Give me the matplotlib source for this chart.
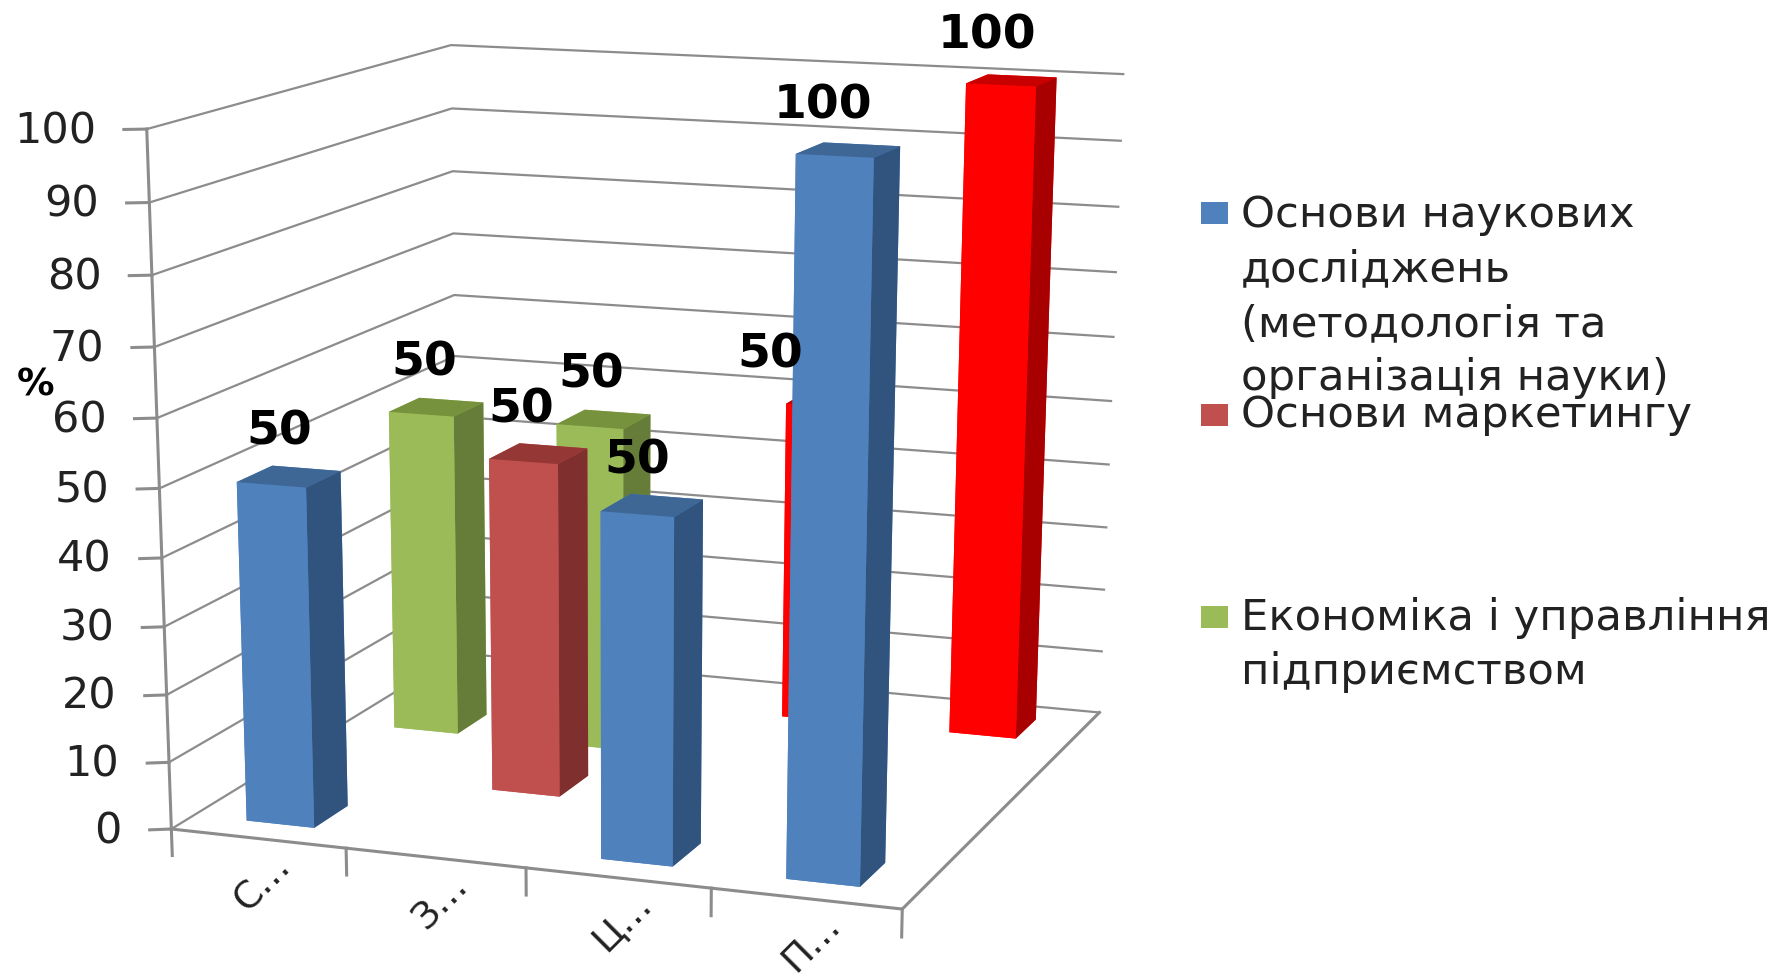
import numpy as np
import matplotlib
matplotlib.use('Agg')
import matplotlib.pyplot as plt
from matplotlib.patches import Rectangle
from mpl_toolkits.mplot3d import proj3d

W, H = 1788, 976

categories = ['С…', 'З…', 'Ц…', 'П…']
series_names = ['Основи наукових\nдосліджень\n(методологія та\nорганізація науки)',
                'Основи маркетингу',
                'Економіка і управління\nпідприємством']
z_ticks = [0, 10, 20, 30, 40, 50, 60, 70, 80, 90, 100]

# category index, series index, value
bar_cat = [0, 0, 1, 1, 2, 2, 3, 3]
bar_ser = [0, 2, 1, 2, 0, 3, 0, 3]
bar_val = [50, 50, 50, 50, 50, 50, 100, 100]
label_shift = [-10, -12, -17, -13, -15, -61, -25, -25]

# front, side, top for each series row
series_styles = [('#4F81BD', '#31547E', '#3E6795'),
                 ('#C0504D', '#7F2F2D', '#953735'),
                 ('#9BBB59', '#667D39', '#76923C'),
                 ('#FF0000', '#A80000', '#C80000')]
legend_colors = ['#4F81BD', '#C0504D', '#9BBB59']

# camera fitted to the frame of the reference
elev, azim, roll, dist = 14.6951, -70.2368, -0.1361, 6.0781
aspect = (0.8560, 0.8478, 1.0)
sx, tx, sy, ty = 4339.29, 658.64, 3445.14, 533.45
bw, bd = 0.39, 0.33
row = 0.75

fig = plt.figure(figsize=(W / 100, H / 100), dpi=100, facecolor='white')
ax = fig.add_axes([0, 0, 1, 1], projection='3d')
ax.set_xlim(0, 4)
ax.set_ylim(0, 3)
ax.set_zlim(0, 100)
ax.set_axis_off()
ax.computed_zorder = False
ax.view_init(elev=elev, azim=azim, roll=roll)
ax.set_proj_type('persp', focal_length=1.0)
ax._dist = dist
ax.set_box_aspect(aspect)
ax.apply_aspect = lambda position=None: None
ax.viewLim.intervalx = ((0 - tx) / sx, (W - tx) / sx)
ax.viewLim.intervaly = ((0 - ty) / sy, (H - ty) / sy)


def label(x, y, z, s, dx, dy, **kw):
    u, v, _ = proj3d.proj_transform(x, y, z, ax.get_proj())
    ax.annotate(s, xy=(u, v), xycoords='data', xytext=(dx, dy), textcoords='offset pixels', **kw)


GRID = '#8C8C8C'
TEXT = '#222222'
for z in z_ticks:
    ax.plot([0, 0, 4], [0, 3, 3], [z, z, z], color=GRID, lw=1.6, zorder=1)
    ax.plot([0, -0.10], [0, -0.04], [z, z], color=GRID, lw=2.2, zorder=1)
    label(0, 0, z, str(z), -50, -2, ha='right', va='center', fontsize=31, color=TEXT, zorder=20)
ax.plot([0, 0], [0, 0], [0, 100], color=GRID, lw=2.2, zorder=1)
ax.plot([0, 4, 4], [0, 0, 3], [0, 0, 0], color=GRID, lw=2.2, zorder=1)
for i in range(5):
    ax.plot([i, i], [0, 0], [0, -4], color=GRID, lw=2.2, zorder=1)
for i, name in enumerate(categories):
    label(i + 0.5, 0, 0, name, 5, -44, rotation=45, ha='center', va='center', fontsize=27, color=TEXT, zorder=20)

# paint from back to front
order = sorted(range(len(bar_val)), key=lambda k: (-bar_ser[k], bar_cat[k]))
for n, k in enumerate(order):
    xc, yc = bar_cat[k] + 0.5, (bar_ser[k] + 0.5) * row
    front, side, top = series_styles[bar_ser[k]]
    # bar3d face order: bottom, top, front, back, left, right
    ax.bar3d(xc - bw / 2, yc - bd / 2, 0, bw, bd, bar_val[k],
             color=[front, top, front, front, front, side], shade=False,
             linewidth=0, edgecolor='none', zorder=5 + n)
for k in order:
    xc, yc = bar_cat[k] + 0.5, (bar_ser[k] + 0.5) * row
    label(xc, yc, bar_val[k], str(bar_val[k]), label_shift[k], 44, ha='center', va='center',
          fontsize=34, fontweight='bold', color='black', zorder=30)

fig.text(36 / W, 1 - 386 / H, '%', fontsize=27, fontweight='bold', ha='center', va='center')

# legend
swatch_y = [213, 415, 617]
line_y = [[215, 269, 324, 378], [415], [618, 672]]
for i, name in enumerate(series_names):
    fig.patches.append(Rectangle((1201 / W, 1 - (swatch_y[i] + 11) / H), 27 / W, 22 / H,
                                 transform=fig.transFigure, facecolor=legend_colors[i], edgecolor='none'))
    for line, y in zip(name.split('\n'), line_y[i]):
        fig.text(1241 / W, 1 - y / H, line, fontsize=31.2, color=TEXT, ha='left', va='center')

fig.savefig('out.png', dpi=100)
